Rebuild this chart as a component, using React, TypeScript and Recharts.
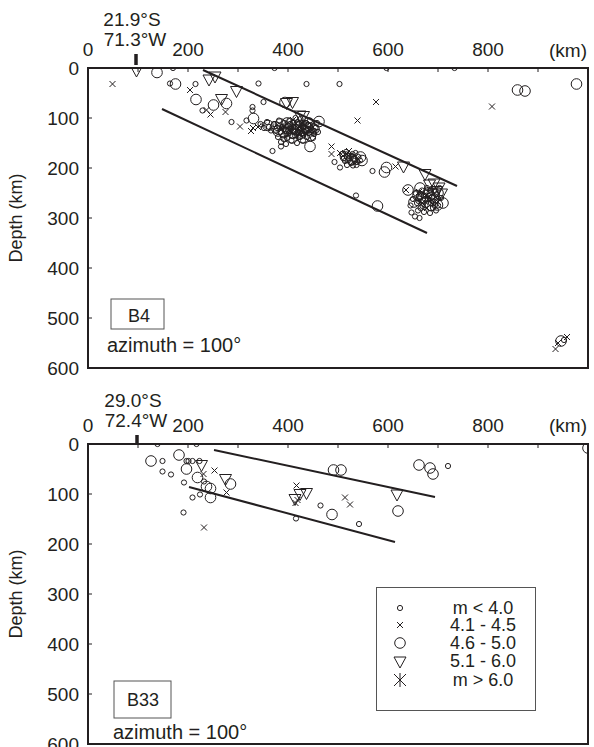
import React from 'react';
import { ScatterChart, Scatter, XAxis, YAxis, ReferenceLine, ReferenceArea, Legend } from 'recharts';

const FONT = '"Liberation Sans", Arial, Helvetica, sans-serif';
const INK = '#231f20';

const xTicks = [0, 100, 200, 300, 400, 500, 600, 700, 800, 900, 1000];
const xTickLabels: Record<number, string> = { 0: '0', 200: '200', 400: '400', 600: '600', 800: '800' };
const xUnit = '(km)';
const depthTicks = [0, 100, 200, 300, 400, 500, 600];
const legendLabels = ['m < 4.0', '4.1 - 4.5', '4.6 - 5.0', '5.1 - 6.0', 'm > 6.0'];

// ---------- Panel B4 (21.9°S 71.3°W) : [distance km, depth km] ----------
const b4Location = ['21.9°S', '71.3°W'];
const b4Small = [
  [170, 0], [373, 0], [597, 0], [733, 0], [164, 31], [215, 32], [229, 85], [287, 108], [317, 105], [329, 78], [329, 85],
  [341, 31], [351, 68], [437, 32], [503, 32], [369, 166], [386, 157],
  [372, 112], [378, 120], [382, 105], [385, 128], [388, 118], [390, 135], [393, 110], [395, 125], [398, 140], [400, 115],
  [402, 130], [405, 120], [407, 145], [410, 108], [412, 125], [414, 135], [416, 118], [418, 150], [420, 128], [422, 112],
  [424, 138], [426, 122], [428, 132], [430, 145], [432, 118], [434, 128], [436, 110], [438, 138], [440, 122], [442, 130],
  [445, 115], [448, 125], [450, 140], [452, 132], [455, 120], [458, 110], [460, 128], [380, 138], [386, 148], [396, 152],
  [403, 105], [415, 100], [425, 102], [444, 105], [362, 118], [366, 125], [352, 120], [358, 108], [345, 112],
  [376, 126], [383, 116], [391, 122], [397, 132], [404, 112], [409, 136], [413, 128], [419, 108], [423, 130], [427, 116],
  [431, 134], [437, 124], [441, 114], [446, 128], [391, 142], [401, 126], [411, 118], [421, 138], [433, 112], [453, 126],
  [493, 188], [504, 199], [537, 194], [569, 206], [536, 255], [647, 289], [654, 297], [663, 300],
  [508, 172], [512, 180], [516, 168], [520, 185], [523, 176], [526, 190], [529, 172], [532, 182], [535, 170], [538, 188],
  [541, 178], [544, 185], [518, 194], [530, 195], [514, 186], [521, 180], [527, 176], [533, 186],
  [650, 262], [655, 250], [658, 270], [662, 258], [665, 280], [668, 245], [670, 265], [672, 255], [675, 275], [678, 240],
  [680, 262], [683, 250], [686, 270], [688, 258], [690, 280], [693, 245], [695, 265], [698, 252], [700, 275], [703, 240],
  [706, 260], [660, 285], [672, 288], [684, 290], [696, 285], [645, 275], [666, 252], [674, 262], [682, 256], [689, 266],
  [677, 248], [669, 276], [661, 266], [694, 274], [685, 244], [952, 544],
];
const b4Cross = [
  [49, 32], [204, 44], [237, 84], [245, 93], [275, 88], [304, 117], [576, 68], [539, 105], [808, 77], [487, 157], [487, 172],
  [504, 170], [615, 197], [636, 244], [340, 118], [350, 115], [395, 108], [405, 125], [412, 115], [420, 120], [428, 110],
  [435, 130], [443, 125], [450, 118], [330, 120], [326, 126], [388, 122], [418, 135], [399, 118], [426, 126], [410, 104],
  [510, 176], [518, 172], [525, 180], [532, 175], [540, 182], [522, 166],
  [655, 262], [662, 248], [668, 270], [675, 255], [682, 265], [688, 245], [695, 258], [700, 268], [678, 280], [690, 272],
  [935, 562], [940, 550], [958, 538],
];
const b4Circle = [
  [138, 9], [175, 32], [216, 63], [251, 74], [277, 71], [331, 101], [394, 69], [462, 107], [444, 157], [593, 208], [597, 199],
  [579, 276], [977, 32], [859, 44], [874, 46], [946, 546],
  [360, 115], [375, 118], [385, 112], [392, 128], [400, 122], [410, 130], [418, 118], [425, 115], [430, 125], [438, 120],
  [445, 135], [452, 122], [398, 110], [430, 140], [408, 140], [440, 110], [380, 126], [415, 124], [435, 116],
  [515, 178], [528, 183], [545, 178], [548, 185],
  [652, 268], [660, 255], [670, 260], [680, 250], [685, 275], [692, 262], [700, 250], [710, 270], [699, 274], [676, 268],
  [664, 240], [640, 244],
];
const b4Tri = [
  [97, 4], [242, 22], [254, 16], [297, 45], [267, 61], [397, 69], [409, 67], [424, 94], [431, 95], [631, 196], [674, 211],
  [683, 232], [692, 230], [702, 238], [707, 250], [697, 245],
];
const b4Star: number[][] = [];
const b4UpperLine = [[230, 4], [738, 236]];
const b4LowerLine = [[148, 82], [678, 330]];
const b4Trench = [[96, -28], [96, -6]];

// ---------- Panel B33 (29.0°S 72.4°W) ----------
const b33Location = ['29.0°S', '72.4°W'];
const b33Small = [
  [139, 0], [217, 0], [149, 34], [197, 34], [201, 34], [209, 34], [223, 34], [149, 55], [166, 61], [192, 77], [232, 75],
  [224, 101], [209, 107], [191, 137], [416, 149], [465, 123], [542, 160], [720, 44],
];
const b33Cross = [[231, 60], [253, 53], [277, 97], [417, 83], [419, 112], [415, 118], [514, 107], [524, 121], [232, 167]];
const b33Circle = [
  [126, 34], [182, 22], [197, 50], [219, 67], [237, 85], [245, 89], [245, 107], [285, 80], [488, 141], [491, 52], [506, 52],
  [620, 134], [662, 42], [684, 48], [690, 60], [1000, 8],
];
const b33Tri = [[227, 41], [275, 69], [414, 109], [424, 99], [437, 97], [618, 100]];
const b33Star: number[][] = [];
const b33UpperLine = [[252, 12], [694, 106]];
const b33LowerLine = [[202, 86], [614, 196]];
const b33Trench = [[98, -18], [98, 0]];

const toPts = (a: number[][]) => a.map(([x, y]) => ({ x, y }));

const SmallCircle = (p: any) => <circle cx={p.cx} cy={p.cy} r={2.6} fill="none" stroke={INK} strokeWidth={1} />;
const BigCircle = (p: any) => <circle cx={p.cx} cy={p.cy} r={5.3} fill="none" stroke={INK} strokeWidth={1} />;
const Cross = (p: any) => (
  <path d={`M${p.cx - 3},${p.cy - 3}L${p.cx + 3},${p.cy + 3}M${p.cx - 3},${p.cy + 3}L${p.cx + 3},${p.cy - 3}`} stroke={INK} strokeWidth={1} fill="none" />
);
const Tri = (p: any) => (
  <path d={`M${p.cx - 6},${p.cy - 4}L${p.cx + 6},${p.cy - 4}L${p.cx},${p.cy + 7}Z`} stroke={INK} strokeWidth={1} fill="none" />
);
const Star = (p: any) => (
  <path
    d={`M${p.cx},${p.cy - 7}L${p.cx},${p.cy + 7}M${p.cx - 6},${p.cy - 6}L${p.cx + 6},${p.cy + 6}M${p.cx - 6},${p.cy + 6}L${p.cx + 6},${p.cy - 6}`}
    stroke={INK} strokeWidth={1} fill="none"
  />
);
const shapes = [SmallCircle, Cross, BigCircle, Tri, Star];

const xTickRender = (p: any) => (
  <text x={p.x} y={p.y} textAnchor="middle" fontSize={19} fontFamily={FONT} fill={INK}>
    {xTickLabels[Math.round(p.payload.value)] ?? ''}
  </text>
);

const LocLabel = (p: any) => {
  const vb = p.viewBox || {};
  const x = vb.x ?? 0;
  const y = vb.y ?? 0;
  return (
    <g>
      <text x={x - 4} y={y - 28} textAnchor="middle" fontSize={19} fontFamily={FONT} fill={INK}>{p.lines[0]}</text>
      <text x={x - 1} y={y - 8} textAnchor="middle" fontSize={19} fontFamily={FONT} fill={INK}>{p.lines[1]}</text>
    </g>
  );
};

const LegendBox = () => {
  const rows = [21, 38, 56, 74, 93];
  return (
    <svg width={160} height={124} style={{ display: 'block' }}>
      <rect x={0.5} y={0.5} width={159} height={123} fill="white" stroke="#555" strokeWidth={1} />
      {legendLabels.map((t, i) => {
        const S = shapes[i];
        return (
          <g key={t}>
            <S cx={24} cy={rows[i]} />
            <text x={107} y={rows[i] + 6} textAnchor="middle" fontSize={18} fontFamily={FONT} fill={INK}>{t}</text>
          </g>
        );
      })}
    </svg>
  );
};

type PanelProps = {
  height: number;
  top: number;
  marginTop: number;
  marginBottom: number;
  series: number[][][];
  upper: number[][];
  lower: number[][];
  trench: number[][];
  location: string[];
  withLegend?: boolean;
};

function Panel({ height, top, marginTop, marginBottom, series, upper, lower, trench, location, withLegend }: PanelProps) {
  return (
    <div style={{ position: 'absolute', left: 0, top }}>
      <ScatterChart width={594} height={height} margin={{ top: marginTop, right: 6, bottom: marginBottom, left: 28 }}>
        <XAxis
          type="number" dataKey="x" orientation="top" domain={[0, 1000]} ticks={xTicks} interval={0}
          allowDataOverflow height={30} tickSize={-4} tickMargin={16}
          axisLine={{ stroke: INK, strokeWidth: 2 }} stroke={INK}
          tick={xTickRender}
        />
        <YAxis
          type="number" dataKey="y" reversed domain={[0, 600]} ticks={depthTicks} interval={0}
          allowDataOverflow width={60} tickSize={-4} tickMargin={13}
          axisLine={{ stroke: INK, strokeWidth: 2 }} stroke={INK}
          tick={{ fontSize: 19, fill: INK, fontFamily: FONT }}
        />
        <ReferenceArea x1={0} x2={1000} y1={0} y2={600} fill="none" stroke={INK} strokeWidth={2} ifOverflow="visible" />
        <ReferenceLine segment={toPts(upper)} stroke={INK} strokeWidth={2} ifOverflow="visible" />
        <ReferenceLine segment={toPts(lower)} stroke={INK} strokeWidth={2} ifOverflow="visible" />
        <ReferenceLine segment={toPts(trench)} stroke={INK} strokeWidth={3.5} ifOverflow="visible"
          label={<LocLabel lines={location} />} />
        {series.map((s, i) => (
          <Scatter key={i} name={legendLabels[i]} data={toPts(s)} shape={shapes[i]} isAnimationActive={false} />
        ))}
        {withLegend && (
          <Legend
            layout="vertical" align="center" verticalAlign="middle" content={<LegendBox />}
            wrapperStyle={{ left: 376, top: 215, width: 160, height: 124 }}
          />
        )}
      </ScatterChart>
    </div>
  );
}

const txt = { fontFamily: FONT, fill: INK } as const;

export default function App() {
  return (
    <div style={{ position: 'absolute', left: 0, top: 0, width: 594, height: 747, background: 'white', overflow: 'hidden' }}>
      <Panel height={385} top={0} marginTop={38} marginBottom={17} location={b4Location}
        series={[b4Small, b4Cross, b4Circle, b4Tri, b4Star]} upper={b4UpperLine} lower={b4LowerLine} trench={b4Trench} />
      <Panel height={375} top={372} marginTop={42} marginBottom={3} location={b33Location}
        series={[b33Small, b33Cross, b33Circle, b33Tri, b33Star]} upper={b33UpperLine} lower={b33LowerLine} trench={b33Trench} withLegend />
      <svg width={594} height={747} style={{ position: 'absolute', left: 0, top: 0, pointerEvents: 'none' }}>
        <text {...txt} x={587} y={57} fontSize={19} textAnchor="end">{xUnit}</text>
        <text {...txt} x={587} y={432} fontSize={19} textAnchor="end">{xUnit}</text>
        <text {...txt} fontSize={18} textAnchor="middle" transform="translate(22,218) rotate(-90)">Depth (km)</text>
        <text {...txt} fontSize={18} textAnchor="middle" transform="translate(22,594) rotate(-90)">Depth (km)</text>
        <rect x={111} y={299} width={53} height={30} fill="none" stroke="#555" strokeWidth={1} />
        <text {...txt} x={139} y={322} fontSize={18} textAnchor="middle">B4</text>
        <text {...txt} x={107} y={352} fontSize={20}>azimuth = 100°</text>
        <rect x={114} y={681} width={57} height={37} fill="none" stroke="#555" strokeWidth={1} />
        <text {...txt} x={143} y={706} fontSize={18} textAnchor="middle">B33</text>
        <text {...txt} x={113} y={739} fontSize={20}>azimuth = 100°</text>
      </svg>
    </div>
  );
}
